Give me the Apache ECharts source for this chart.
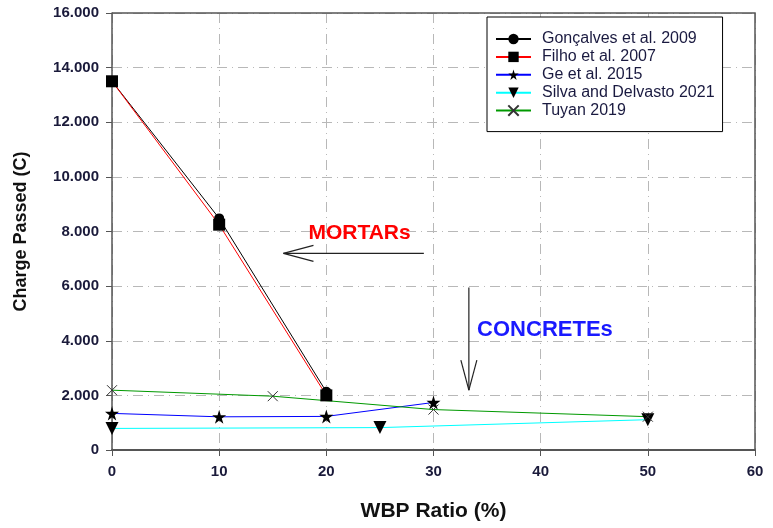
<!DOCTYPE html>
<html>
<head>
<meta charset="utf-8">
<script src="https://cdn.jsdelivr.net/npm/echarts@6/dist/echarts.min.js"></script>
<style>html,body{margin:0;padding:0;background:#fff;}#c{width:773px;height:528px;}</style>
</head>
<body>
<div id="c"></div>
<script>
// ---- Data ----
var seriesNames = ['Gonçalves et al. 2009', 'Filho et al. 2007', 'Ge et al. 2015', 'Silva and Delvasto 2021', 'Tuyan 2019'];
var goncalves = [[0, 13500], [10, 8480], [20, 2130]];
var filho = [[0, 13500], [10, 8250], [20, 2000]];
var ge = [[0, 1340], [10, 1215], [20, 1230], [30, 1740]];
var silva = [[0, 790], [25, 820], [50, 1110]];
var tuyan = [[0, 2190], [15, 1970], [30, 1480], [50, 1220]];
var xTicks = [0, 10, 20, 30, 40, 50, 60];
var yTickLabels = ['0', '2.000', '4.000', '6.000', '8.000', '10.000', '12.000', '14.000', '16.000'];
// annotations in data coordinates
var mortarText = { text: 'MORTARs', at: [23.1, 7950] };
var mortarArrow = { from: [29.1, 7200], to: [16.0, 7200] };
var concreteText = { text: 'CONCRETEs', at: [40.4, 4380] };
var concreteArrow = { from: [33.3, 5950], to: [33.3, 2190] };

var STAR = 'path://M50,0L61,35L98,35L68,57L79,91L50,70L21,91L32,57L2,35L39,35Z';
var TRI_DOWN = 'path://M0,0L10,0L5,10Z';
var CROSS = 'path://M0,0L10,10M10,0L0,10';

var chart = echarts.init(document.getElementById('c'));
var gridDash = { color: '#b8b8b8', width: 1, type: [10, 5, 1, 5] };
var lblColor = '#1a1a3a';

function mk(name, data, color, symbol, size, extra) {
  var s = {
    name: name, type: 'line', data: data,
    symbol: symbol, symbolSize: size, showAllSymbol: true,
    lineStyle: { color: color, width: 1 },
    itemStyle: { color: '#000' },
    emphasis: { disabled: true },
    z: 3
  };
  if (extra) for (var k in extra) s[k] = extra[k];
  return s;
}

var option = {
  animation: false,
  backgroundColor: '#fff',
  grid: { left: 112, right: 18, top: 13, bottom: 78, containLabel: false },
  xAxis: {
    type: 'value', min: 0, max: 60, interval: 10,
    name: 'WBP Ratio (%)', nameLocation: 'middle', nameGap: 51,
    nameTextStyle: { fontFamily: 'Liberation Sans, Arial', fontWeight: 'bold', fontSize: 21, color: '#111' },
    axisLine: { show: true, onZero: false, lineStyle: { color: '#555', width: 2 } },
    axisTick: { show: true, length: 6, lineStyle: { color: '#555' } },
    axisLabel: { margin: 14, fontFamily: 'Liberation Sans, Arial', fontWeight: 'bold', fontSize: 15, color: lblColor,
      formatter: function (v) { return xTicks.indexOf(v) >= 0 ? String(v) : ''; } },
    splitLine: { show: true, lineStyle: gridDash }
  },
  yAxis: {
    type: 'value', min: 0, max: 16000, interval: 2000,
    name: 'Charge Passed (C)', nameLocation: 'middle', nameGap: 82,
    nameTextStyle: { fontFamily: 'Liberation Sans, Arial', fontWeight: 'bold', fontSize: 18, color: '#111' },
    axisLine: { show: true, onZero: false, lineStyle: { color: '#555', width: 1.5 } },
    axisTick: { show: true, length: 6, lineStyle: { color: '#555' } },
    axisLabel: { margin: 13, fontFamily: 'Liberation Sans, Arial', fontWeight: 'bold', fontSize: 15, color: lblColor,
      formatter: function (v) { return yTickLabels[Math.round(v / 2000)]; } },
    splitLine: { show: true, lineStyle: gridDash }
  },
  legend: {
    orient: 'vertical', left: 487, top: 17,
    data: seriesNames,
    backgroundColor: '#fff', borderColor: '#000', borderWidth: 1,
    padding: [14, 8, 13, 8],
    itemWidth: 35, itemHeight: 13, itemGap: 1.9,
    textStyle: { fontFamily: 'Liberation Sans, Arial', fontSize: 16, lineHeight: 16, color: '#1a1a40', padding: [0, 0, 0, 6] },
    selectedMode: false
  },
  series: [
    mk(seriesNames[0], goncalves, '#000', 'circle', 10),
    mk(seriesNames[1], filho, '#ff0000', 'rect', 12),
    mk(seriesNames[2], ge, '#0000ff', STAR, 14),
    mk(seriesNames[3], silva, '#00ffff', TRI_DOWN, 13),
    mk(seriesNames[4], tuyan, '#009900', CROSS, 10, {
      itemStyle: { color: 'rgba(0,0,0,0)', borderColor: '#333', borderWidth: 1 }
    })
  ]
};
chart.setOption(option);

// frame (top & right) and annotations, positioned through the grid's coordinate system
function px(p) { return chart.convertToPixel({ gridIndex: 0 }, p); }
function arrowEls(a) {
  var f = px(a.from), t = px(a.to);
  var dx = f[0] - t[0], dy = f[1] - t[1];
  var L = Math.sqrt(dx * dx + dy * dy); dx /= L; dy /= L;
  var hl = 30, hw = 8;
  var bx = t[0] + dx * hl, by = t[1] + dy * hl;
  var st = { stroke: '#222', lineWidth: 1.2 };
  return [
    { type: 'line', shape: { x1: f[0], y1: f[1], x2: t[0], y2: t[1] }, style: st, z: 10 },
    { type: 'line', shape: { x1: t[0], y1: t[1], x2: bx - dy * hw, y2: by + dx * hw }, style: st, z: 10 },
    { type: 'line', shape: { x1: t[0], y1: t[1], x2: bx + dy * hw, y2: by - dx * hw }, style: st, z: 10 }
  ];
}
var tl = px([0, 16000]), br = px([60, 0]);
var els = [
  { type: 'polyline', shape: { points: [[tl[0], tl[1]], [br[0], tl[1]], [br[0], br[1]]] }, style: { stroke: '#555', lineWidth: 1.5, fill: null }, z: 1 }
];
els = els.concat(arrowEls(mortarArrow), arrowEls(concreteArrow));
var mt = px(mortarText.at), ct = px(concreteText.at);
els.push({ type: 'text', x: mt[0], y: mt[1], style: { text: mortarText.text, fill: '#ff0000', font: 'bold 21px "Liberation Sans", Arial', align: 'center', verticalAlign: 'middle' }, z: 10 });
els.push({ type: 'text', x: ct[0], y: ct[1], style: { text: concreteText.text, fill: '#1a1aff', font: 'bold 22px "Liberation Sans", Arial', align: 'center', verticalAlign: 'middle' }, z: 10 });
chart.setOption({ graphic: { elements: els } });
</script>
</body>
</html>
